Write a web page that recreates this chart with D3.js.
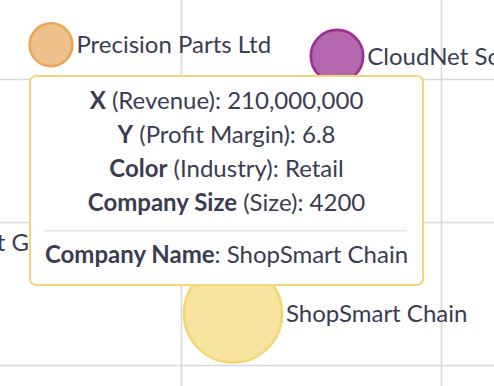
<!DOCTYPE html>
<html>
<head>
<meta charset="utf-8">
<script src="https://cdn.jsdelivr.net/npm/d3@7"></script>
<style>
  html, body { margin: 0; padding: 0; background: #fff; overflow: hidden; }
  svg { display: block; font-family: Lato, "Open Sans", sans-serif; }
</style>
</head>
<body>
<svg id="chart" width="494" height="386"></svg>
<script>
// Company bubble data: revenue (x), profit margin (y), size (bubble area), industry (colour)
const companies = ["Harvest Growers", "Precision Parts Ltd", "CloudNet Solutions", "ShopSmart Chain"];
const industries = ["Agriculture", "Manufacturing", "Technology", "Retail"];
const revenue = [144000000, 175000000, 230000000, 210000000];
const profitMargin = [9.3, 16.2, 15.8, 6.8];
const companySize = [1500, 800, 1200, 4200];

// Gridline ticks
const xTicks = [150000000, 200000000, 250000000, 300000000];
const yTicks = [0, 5, 10, 15, 20];

// Highlighted company shown in the tooltip
const focusCompany = "ShopSmart Chain";

const industryColors = {
  Agriculture:   { fill: "#9fd3a8", stroke: "#6dbb7b" },
  Manufacturing: { fill: "#eec08b", stroke: "#e8a656" },
  Technology:    { fill: "#b567ae", stroke: "#9c2f93" },
  Retail:        { fill: "#f6e49e", stroke: "#f2d772" }
};

const textColor = "#3a3c51";
const fontSize = 24;

const data = companies.map((name, i) => ({
  name,
  industry: industries[i],
  revenue: revenue[i],
  margin: profitMargin[i],
  size: companySize[i]
}));

const svg = d3.select("#chart");

// The plot area is wider than the window; only part of it is visible.
const x = d3.scaleLinear().domain([100000000, 300000000]).range([-339, 701]);
const y = d3.scaleLinear().domain([0, 20]).range([508, -64]);
const r = d3.scaleSqrt().domain([0, 5000]).range([0, 53.5]);

// Gridlines
const grid = svg.append("g").attr("class", "grid");
grid.append("g")
  .attr("transform", `translate(0,${y(0)})`)
  .call(d3.axisBottom(x).tickValues(xTicks).tickSize(-(y(0) - y(20))).tickFormat(""))
  .call(g => g.select(".domain").remove());
grid.append("g")
  .attr("transform", `translate(${x(100000000)},0)`)
  .call(d3.axisLeft(y).tickValues(yTicks).tickSize(-(x(300000000) - x(100000000))).tickFormat(""))
  .call(g => g.select(".domain").remove());
grid.selectAll(".tick line").attr("stroke", "#d8d8de").attr("stroke-width", 1.6);

// Bubbles
const bubbles = svg.append("g").selectAll("g.bubble")
  .data(data)
  .join("g")
  .attr("class", "bubble");

bubbles.append("circle")
  .attr("cx", d => x(d.revenue))
  .attr("cy", d => y(d.margin))
  .attr("r", d => r(d.size))
  .attr("fill", d => industryColors[d.industry].fill)
  .attr("stroke", d => industryColors[d.industry].stroke)
  .attr("stroke-width", 2.6);

bubbles.append("text")
  .attr("x", d => x(d.revenue) + r(d.size) + 4)
  .attr("y", d => y(d.margin))
  .attr("dy", "0.36em")
  .attr("fill", textColor)
  .attr("font-size", fontSize)
  .text(d => d.name);

// Tooltip
const fmt = d3.format(",");
const f = data.find(d => d.name === focusCompany);
const rows = [
  ["X", " (Revenue): " + fmt(f.revenue)],
  ["Y", " (Profit Margin): " + f.margin],
  ["Color", " (Industry): " + f.industry],
  ["Company Size", " (Size): " + f.size]
];

const tip = svg.append("g").attr("class", "tooltip");
const box = { x: 30, y: 76, w: 393, h: 209 };
const cx = box.x + box.w / 2;

tip.append("rect")
  .attr("x", box.x).attr("y", box.y)
  .attr("width", box.w).attr("height", box.h)
  .attr("rx", 6)
  .attr("fill", "#fff")
  .attr("stroke", "#f3d77a")
  .attr("stroke-width", 2);

const rowText = tip.selectAll("text.row")
  .data(rows)
  .join("text")
  .attr("class", "row")
  .attr("x", cx)
  .attr("y", (d, i) => box.y + 33 + i * 34)
  .attr("text-anchor", "middle")
  .attr("font-size", fontSize)
  .attr("fill", textColor);
rowText.append("tspan").attr("font-weight", 700).text(d => d[0]);
rowText.append("tspan").text(d => d[1]);

tip.append("line")
  .attr("x1", box.x + 14).attr("x2", box.x + box.w - 16)
  .attr("y1", box.y + 154.7).attr("y2", box.y + 154.7)
  .attr("stroke", "#e6e6e8")
  .attr("stroke-width", 1.6);

const nameText = tip.append("text")
  .attr("x", cx)
  .attr("y", box.y + 187)
  .attr("text-anchor", "middle")
  .attr("font-size", fontSize)
  .attr("fill", textColor);
nameText.append("tspan").attr("font-weight", 700).text("Company Name");
nameText.append("tspan").text(": " + f.name);
</script>
</body>
</html>
